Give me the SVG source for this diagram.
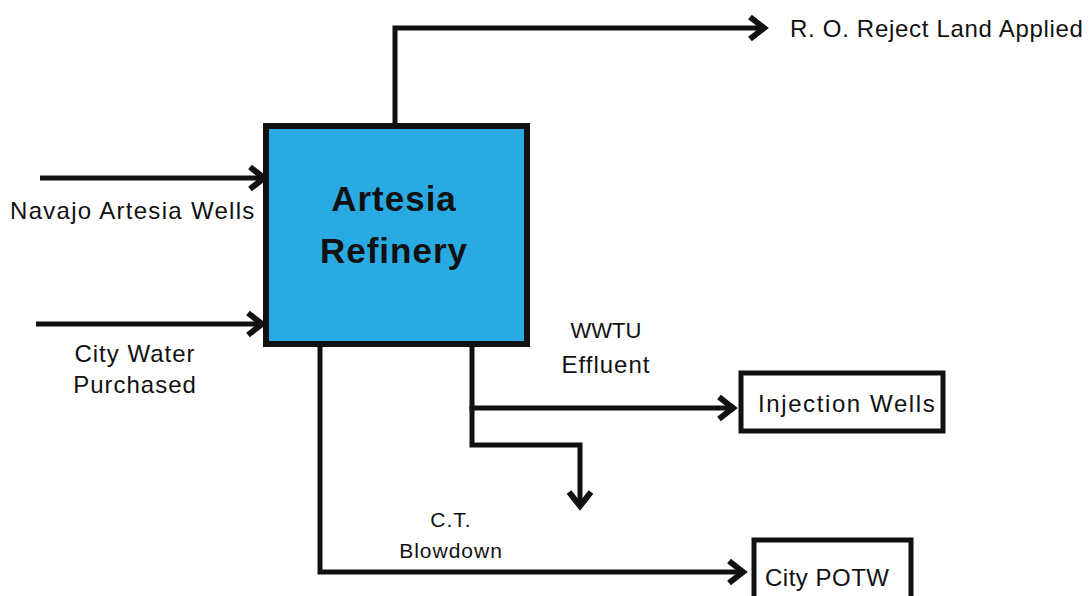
<svg xmlns="http://www.w3.org/2000/svg" width="1089" height="596" viewBox="0 0 1089 596">
<style>
.t{font-family:"Liberation Sans",Arial,sans-serif;font-size:24px;letter-spacing:1px;fill:#111}
.h{font-family:"Liberation Sans",Arial,sans-serif;font-size:35px;font-weight:bold;letter-spacing:1px;fill:#111}
.c{stroke:#111;stroke-width:5;fill:none;stroke-linejoin:miter}
.b{stroke:#111;stroke-width:5;fill:#fff}
</style>
<defs>
<marker id="ah" markerUnits="userSpaceOnUse" orient="auto" refX="0" refY="0" markerWidth="30" markerHeight="30" viewBox="-20 -15 30 30" overflow="visible">
<path d="M-15,-11 L-1,0 L-15,11" fill="none" stroke="#111" stroke-width="6"/>
</marker>
</defs>
<rect width="1089" height="596" fill="#fff"/>
<g id="connectors">
<path class="c" d="M395,126 V28 H765" marker-end="url(#ah)"/>
<path class="c" d="M40,178 H265" marker-end="url(#ah)"/>
<path class="c" d="M36,324 H263" marker-end="url(#ah)"/>
<path class="c" d="M320,346 V572 H744" marker-end="url(#ah)"/>
<path class="c" d="M472,346 V408 H734" marker-end="url(#ah)"/>
<path class="c" d="M472,406 V445 H580 V507" marker-end="url(#ah)"/>
</g>
<g id="refinery">
<rect x="266" y="126" width="261" height="218" fill="#2aaae2" stroke="#111" stroke-width="6"/>
<text class="h" x="394" y="211" text-anchor="middle">Artesia</text>
<text class="h" x="394" y="263" text-anchor="middle">Refinery</text>
</g>
<g id="ro-reject">
<text class="t" x="790" y="37" style="letter-spacing:0.7px">R. O. Reject Land Applied</text>
</g>
<g id="navajo">
<text class="t" x="10" y="219" style="letter-spacing:1.3px">Navajo Artesia Wells</text>
</g>
<g id="city-water">
<text class="t" x="135" y="362" text-anchor="middle">City Water</text>
<text class="t" x="135" y="393" text-anchor="middle">Purchased</text>
</g>
<g id="wwtu">
<text class="t" x="606" y="338" text-anchor="middle" style="font-size:22px;letter-spacing:0">WWTU</text>
<text class="t" x="606" y="373" text-anchor="middle">Effluent</text>
</g>
<g id="injection-wells">
<rect class="b" x="741" y="373" width="202" height="58"/>
<text class="t" x="758" y="412" style="letter-spacing:1.6px">Injection Wells</text>
</g>
<g id="ct-blowdown">
<text class="t" x="451" y="527" text-anchor="middle" style="font-size:21px">C.T.</text>
<text class="t" x="451" y="558" text-anchor="middle" style="font-size:21px">Blowdown</text>
</g>
<g id="city-potw">
<rect class="b" x="754" y="540" width="157" height="70"/>
<text class="t" x="765" y="586" style="letter-spacing:0.5px">City POTW</text>
</g>
</svg>
